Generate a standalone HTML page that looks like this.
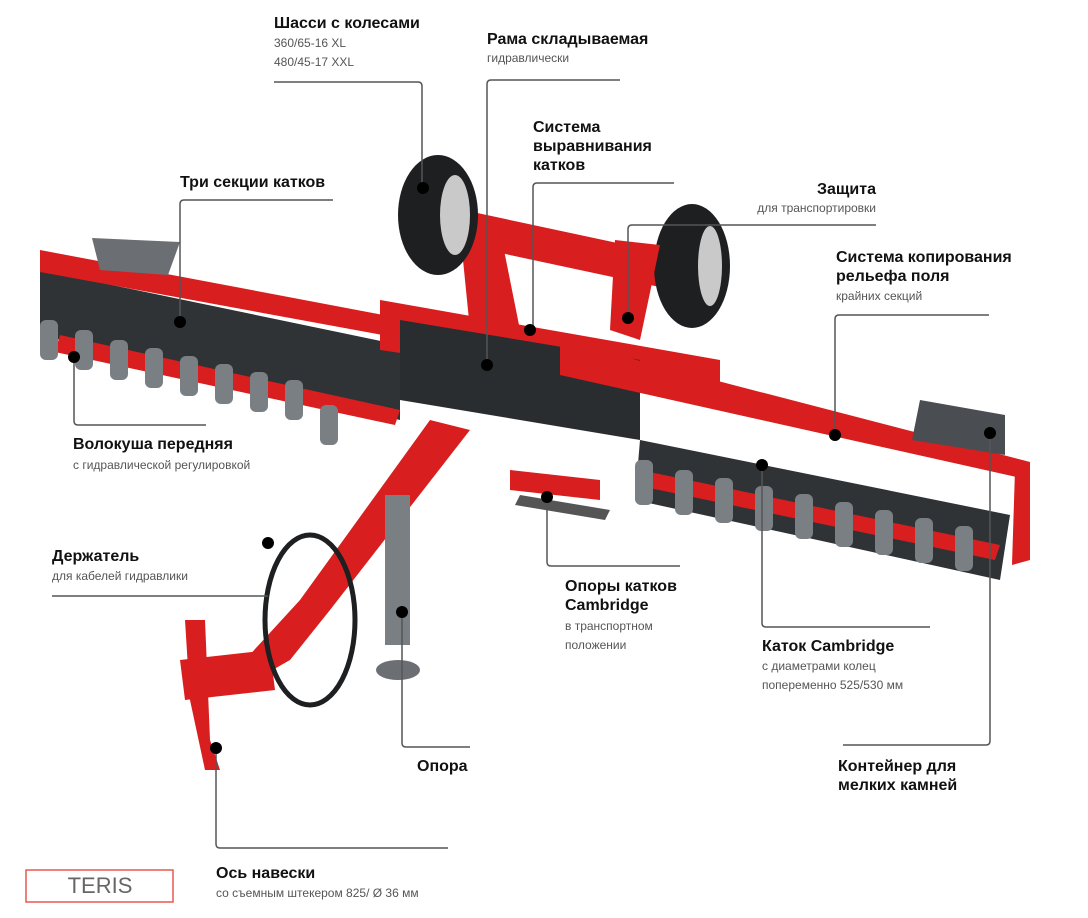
<!DOCTYPE html>
<html><head><meta charset="utf-8"><style>
html,body{margin:0;padding:0;background:#fff}
body{width:1088px;height:918px;position:relative;overflow:hidden;font-family:"Liberation Sans","Noto Sans CJK SC",sans-serif}
.t{position:absolute;font-weight:bold;font-size:16px;color:#111;line-height:19px}
.s{position:absolute;font-size:12px;color:#555;line-height:19px}
svg{position:absolute;left:0;top:0}
</style></head><body>
<svg width="1088" height="918" viewBox="0 0 1088 918">
<g>
<!-- left roller section -->
<polygon points="40,270 400,345 400,420 40,335" fill="#2f3336"/>
<polygon points="40,250 410,320 410,340 40,272" fill="#d81e1e"/>
<polygon points="60,335 400,410 395,425 55,352" fill="#d81e1e"/>
<g fill="#7a7f84">
<rect x="40" y="320" width="18" height="40" rx="6"/><rect x="75" y="330" width="18" height="40" rx="6"/><rect x="110" y="340" width="18" height="40" rx="6"/><rect x="145" y="348" width="18" height="40" rx="6"/><rect x="180" y="356" width="18" height="40" rx="6"/><rect x="215" y="364" width="18" height="40" rx="6"/><rect x="250" y="372" width="18" height="40" rx="6"/><rect x="285" y="380" width="18" height="40" rx="6"/><rect x="320" y="405" width="18" height="40" rx="6"/>
</g>
<polygon points="92,238 180,242 168,275 100,270" fill="#6b6f73"/>
<!-- central frame -->
<polygon points="440,205 720,265 720,300 440,240" fill="#d81e1e"/>
<polygon points="380,300 720,360 720,400 380,350" fill="#d81e1e"/>
<polygon points="400,320 640,360 640,440 400,400" fill="#2a2d30"/>
<polygon points="460,230 500,230 520,330 470,330" fill="#d81e1e"/>
<!-- tires -->
<ellipse cx="438" cy="215" rx="40" ry="60" fill="#1d1f21"/>
<ellipse cx="455" cy="215" rx="15" ry="40" fill="#c9c9c9"/>
<ellipse cx="692" cy="266" rx="38" ry="62" fill="#1d1f21"/>
<ellipse cx="710" cy="266" rx="12" ry="40" fill="#c9c9c9"/>
<polygon points="615,240 660,245 640,340 610,330" fill="#d81e1e"/>
<!-- right roller section -->
<polygon points="640,440 1010,515 1000,580 635,500" fill="#2f3336"/>
<polygon points="560,340 1030,462 1030,480 560,375" fill="#d81e1e"/>
<polygon points="640,470 1000,545 995,560 635,485" fill="#d81e1e"/>
<polygon points="1015,470 1030,470 1030,560 1012,565" fill="#d81e1e"/>
<polygon points="920,400 1005,415 1005,455 912,440" fill="#4a4e52"/>
<g fill="#7a7f84">
<rect x="635" y="460" width="18" height="45" rx="6"/><rect x="675" y="470" width="18" height="45" rx="6"/><rect x="715" y="478" width="18" height="45" rx="6"/><rect x="755" y="486" width="18" height="45" rx="6"/><rect x="795" y="494" width="18" height="45" rx="6"/><rect x="835" y="502" width="18" height="45" rx="6"/><rect x="875" y="510" width="18" height="45" rx="6"/><rect x="915" y="518" width="18" height="45" rx="6"/><rect x="955" y="526" width="18" height="45" rx="6"/>
</g>
<!-- drawbar -->
<polygon points="430,420 470,430 330,610 290,660 255,680 245,660 300,600" fill="#d81e1e"/>
<polygon points="185,620 205,620 210,740 220,770 205,770 190,700" fill="#d81e1e"/>
<polygon points="180,660 270,650 275,690 185,700" fill="#d81e1e"/>
<rect x="385" y="495" width="25" height="150" fill="#7a7f84"/>
<ellipse cx="398" cy="670" rx="22" ry="10" fill="#6b6f73"/>
<ellipse cx="310" cy="620" rx="45" ry="85" fill="none" stroke="#1d1f21" stroke-width="5"/>
<polygon points="510,470 600,480 600,500 510,490" fill="#d81e1e"/>
<polygon points="520,495 610,510 605,520 515,505" fill="#555"/>
</g>
<g stroke="#555" stroke-width="1.5" fill="none">
<path d="M274,82 H418 Q422,82 422,86 V188"/>
<path d="M620,80 H491 Q487,80 487,84 V365"/>
<path d="M674,183 H537 Q533,183 533,187 V330"/>
<path d="M876,225 H632 Q628,225 628,229 V318"/>
<path d="M989,315 H839 Q835,315 835,319 V435"/>
<path d="M333,200 H184 Q180,200 180,204 V322"/>
<path d="M74,357 V421 Q74,425 78,425 H206"/>
<path d="M52,596 H268"/>
<path d="M547,497 V562 Q547,566 551,566 H680"/>
<path d="M762,465 V623 Q762,627 766,627 H930"/>
<path d="M990,433 V741 Q990,745 986,745 H843"/>
<path d="M402,612 V743 Q402,747 406,747 H470"/>
<path d="M216,748 V844 Q216,848 220,848 H448"/>
</g>
<g fill="#000">
<circle cx="423" cy="188" r="6"/><circle cx="487" cy="365" r="6"/><circle cx="530" cy="330" r="6"/><circle cx="628" cy="318" r="6"/><circle cx="835" cy="435" r="6"/><circle cx="180" cy="322" r="6"/><circle cx="74" cy="357" r="6"/><circle cx="268" cy="543" r="6"/><circle cx="547" cy="497" r="6"/><circle cx="762" cy="465" r="6"/><circle cx="990" cy="433" r="6"/><circle cx="402" cy="612" r="6"/><circle cx="216" cy="748" r="6"/>
</g>
<rect x="26" y="870" width="147" height="32" fill="none" stroke="#e8584f" stroke-width="1.5"/>
</svg>
<div class="t" style="left:274px;top:14px">Шасси с колесами</div>
<div class="s" style="left:274px;top:34px">360/65-16 XL<br>480/45-17 XXL</div>
<div class="t" style="left:487px;top:30px">Рама складываемая</div>
<div class="s" style="left:487px;top:49px">гидравлически</div>
<div class="t" style="left:533px;top:118px">Система<br>выравнивания<br>катков</div>
<div class="t" style="left:180px;top:173px">Три секции катков</div>
<div class="t" style="left:700px;top:180px;width:176px;text-align:right">Защита</div>
<div class="s" style="left:700px;top:199px;width:176px;text-align:right">для транспортировки</div>
<div class="t" style="left:836px;top:248px">Система копирования<br>рельефа поля</div>
<div class="s" style="left:836px;top:287px">крайних секций</div>
<div class="t" style="left:73px;top:435px">Волокуша передняя</div>
<div class="s" style="left:73px;top:456px">с гидравлической регулировкой</div>
<div class="t" style="left:52px;top:547px">Держатель</div>
<div class="s" style="left:52px;top:567px">для кабелей гидравлики</div>
<div class="t" style="left:565px;top:577px">Опоры катков<br>Cambridge</div>
<div class="s" style="left:565px;top:617px">в транспортном<br>положении</div>
<div class="t" style="left:762px;top:637px">Каток Cambridge</div>
<div class="s" style="left:762px;top:657px">с диаметрами колец<br>попеременно 525/530 мм</div>
<div class="t" style="left:417px;top:757px">Опора</div>
<div class="t" style="left:838px;top:757px">Контейнер для<br>мелких камней</div>
<div class="t" style="left:216px;top:864px">Ось навески</div>
<div class="s" style="left:216px;top:884px">со съемным штекером 825/ Ø 36 мм</div>
<div style="position:absolute;left:26px;top:871px;width:148px;text-align:center;font-size:22px;color:#666;line-height:30px">TERIS</div>
</body></html>
